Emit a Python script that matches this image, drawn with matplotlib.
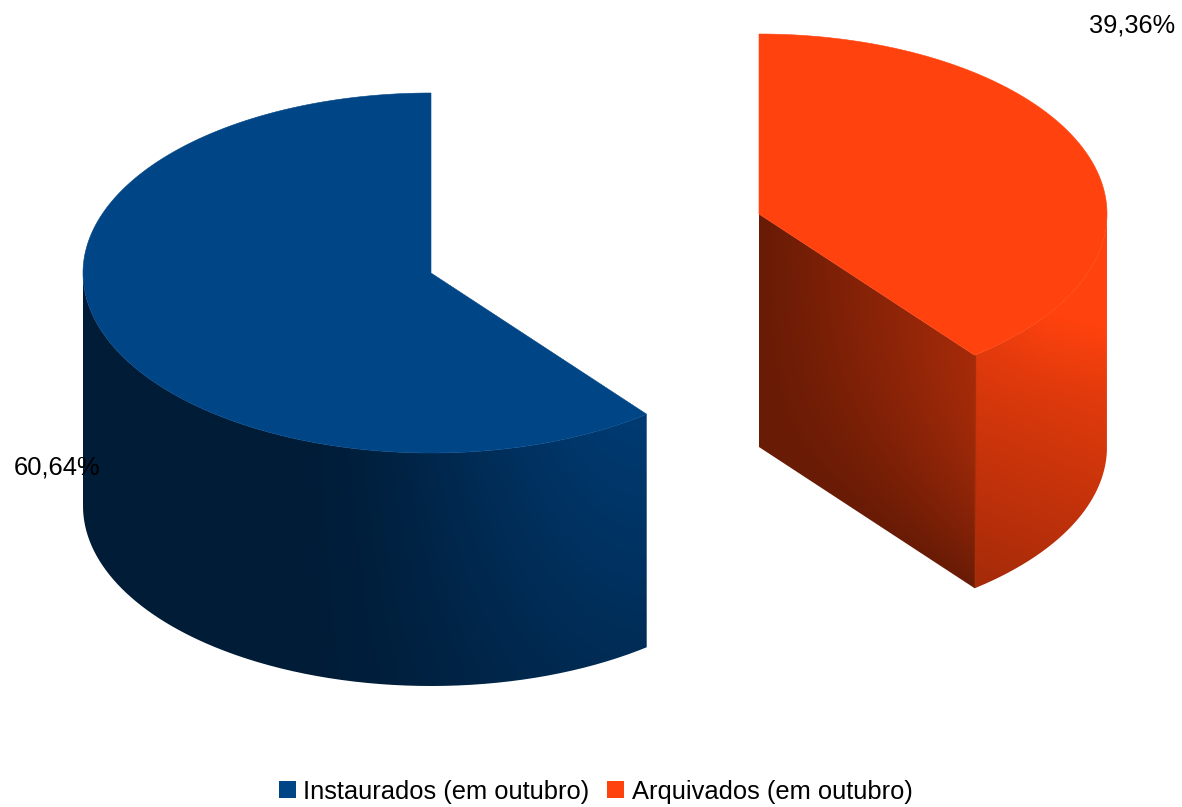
import numpy as np
import matplotlib
matplotlib.use("Agg")
import matplotlib.pyplot as plt
from matplotlib.path import Path
from matplotlib.patches import PathPatch, Rectangle

categories = ["Instaurados (em outubro)", "Arquivados (em outubro)"]
values = [60.64, 39.36]
colors = ["#004586", "#ff420e"]

W, H = 1182, 807
RX, RY, DEPTH = 348, 180, 233
BLUE_C = (431, 273)
ORANGE_C = (759, 214)

plt.rcParams["font.family"] = ["Liberation Sans", "DejaVu Sans"]
fig = plt.figure(figsize=(W / 100, H / 100), dpi=100)
ax = fig.add_axes([0, 0, 1, 1])
ax.axis("off")

yy, xx = np.mgrid[0:H, 0:W] + 0.5


def pts(c, a0, a1, n=240, dy=0):
    a = np.radians(np.linspace(a0, a1, n))
    return np.c_[c[0] + RX * np.cos(a), c[1] - RY * np.sin(a) + dy]


def smooth(u):
    u = np.clip(u, 0, 1)
    return u * u * (3 - 2 * u)


def shaded(shade, color, verts, z=1):
    rgb = np.array(matplotlib.colors.to_rgb(color))
    img = np.clip(shade[..., None], 0, 1) * rgb
    im = ax.imshow(img, extent=(0, W, H, 0), origin="upper", aspect="auto",
                   interpolation="nearest", zorder=z)
    patch = PathPatch(Path(np.vstack([verts, verts[:1]])), transform=ax.transData,
                      fc="none", ec="none")
    ax.add_patch(patch)
    im.set_clip_path(patch)


def top_face(c, a0, a1, color):
    v = np.vstack([[c], pts(c, a0, a1), [c]])
    ax.fill(v[:, 0], v[:, 1], color=color, lw=0.4, zorder=3)


# Blue slice: from 12 o'clock, counter-clockwise
sweep_b = values[0] / sum(values) * 360
end_b = 90 + sweep_b
arc = pts(BLUE_C, 180, end_b)
side = np.vstack([arc, pts(BLUE_C, end_b, 180, dy=DEPTH)])
xf = smooth((xx - 280) / 366)
t = 0.5 * xf + 0.5 * np.clip((670 - yy) / 250, 0, 1) * xf
shaded(0.41 + 0.44 * t, colors[0], side)
top_face(BLUE_C, 90, end_b, colors[0])

# Orange slice: from 12 o'clock, clockwise
sweep_o = values[1] / sum(values) * 360
end_o = 90 - sweep_o
cx, cy = ORANGE_C
ex, ey = pts(ORANGE_C, end_o, end_o, n=1)[0]
cut = np.array([[cx, cy], [ex, ey], [ex, ey + DEPTH], [cx, cy + DEPTH]])
arc = pts(ORANGE_C, end_o, 0)
side = np.vstack([arc, pts(ORANGE_C, 0, end_o, dy=DEPTH)])
# outer side
extra = np.clip((400 - yy) / 80, 0, None) * 0.05 * np.clip((xx - 976) / 70, 0, 1)
shaded(0.84 + (xx - 1000) / 100 * 0.04 - (yy - 400) / 160 * 0.16 + extra, colors[1], side, z=1)
# dark seam between side and cut face
ax.plot([ex, ex], [ey, ey + DEPTH], color="#a83008", lw=1.6, zorder=1.5, solid_capstyle="butt")
# cut face
top_edge = cy + (xx - cx) * (ey - cy) / (ex - cx)
rel = np.clip((yy - top_edge) / DEPTH, 0, 1)
shaded(0.41 + 0.24 * np.clip((xx - cx) / (ex - cx), 0, 1) * (1 - rel ** 2), colors[1], cut, z=2)
top_face(ORANGE_C, end_o, 90, colors[1])

# Data labels
fmt = [f"{v:.2f}".replace(".", ",") + "%" for v in values]
ax.text(14, 467, fmt[0], fontsize=18.4, color="black", ha="left", va="center", zorder=5)
ax.text(1089, 25, fmt[1], fontsize=18.3, color="black", ha="left", va="center", zorder=5)

# Legend
for sx, tx, col, lab in zip([279, 607], [303, 632], colors, categories):
    ax.add_patch(Rectangle((sx, 781), 17, 17, fc=col, ec="none", zorder=5))
    ax.text(tx, 791.5, lab, fontsize=18.4, color="black", ha="left", va="center", zorder=5)

ax.set_xlim(0, W)
ax.set_ylim(H, 0)
fig.savefig("out.png", dpi=100)
